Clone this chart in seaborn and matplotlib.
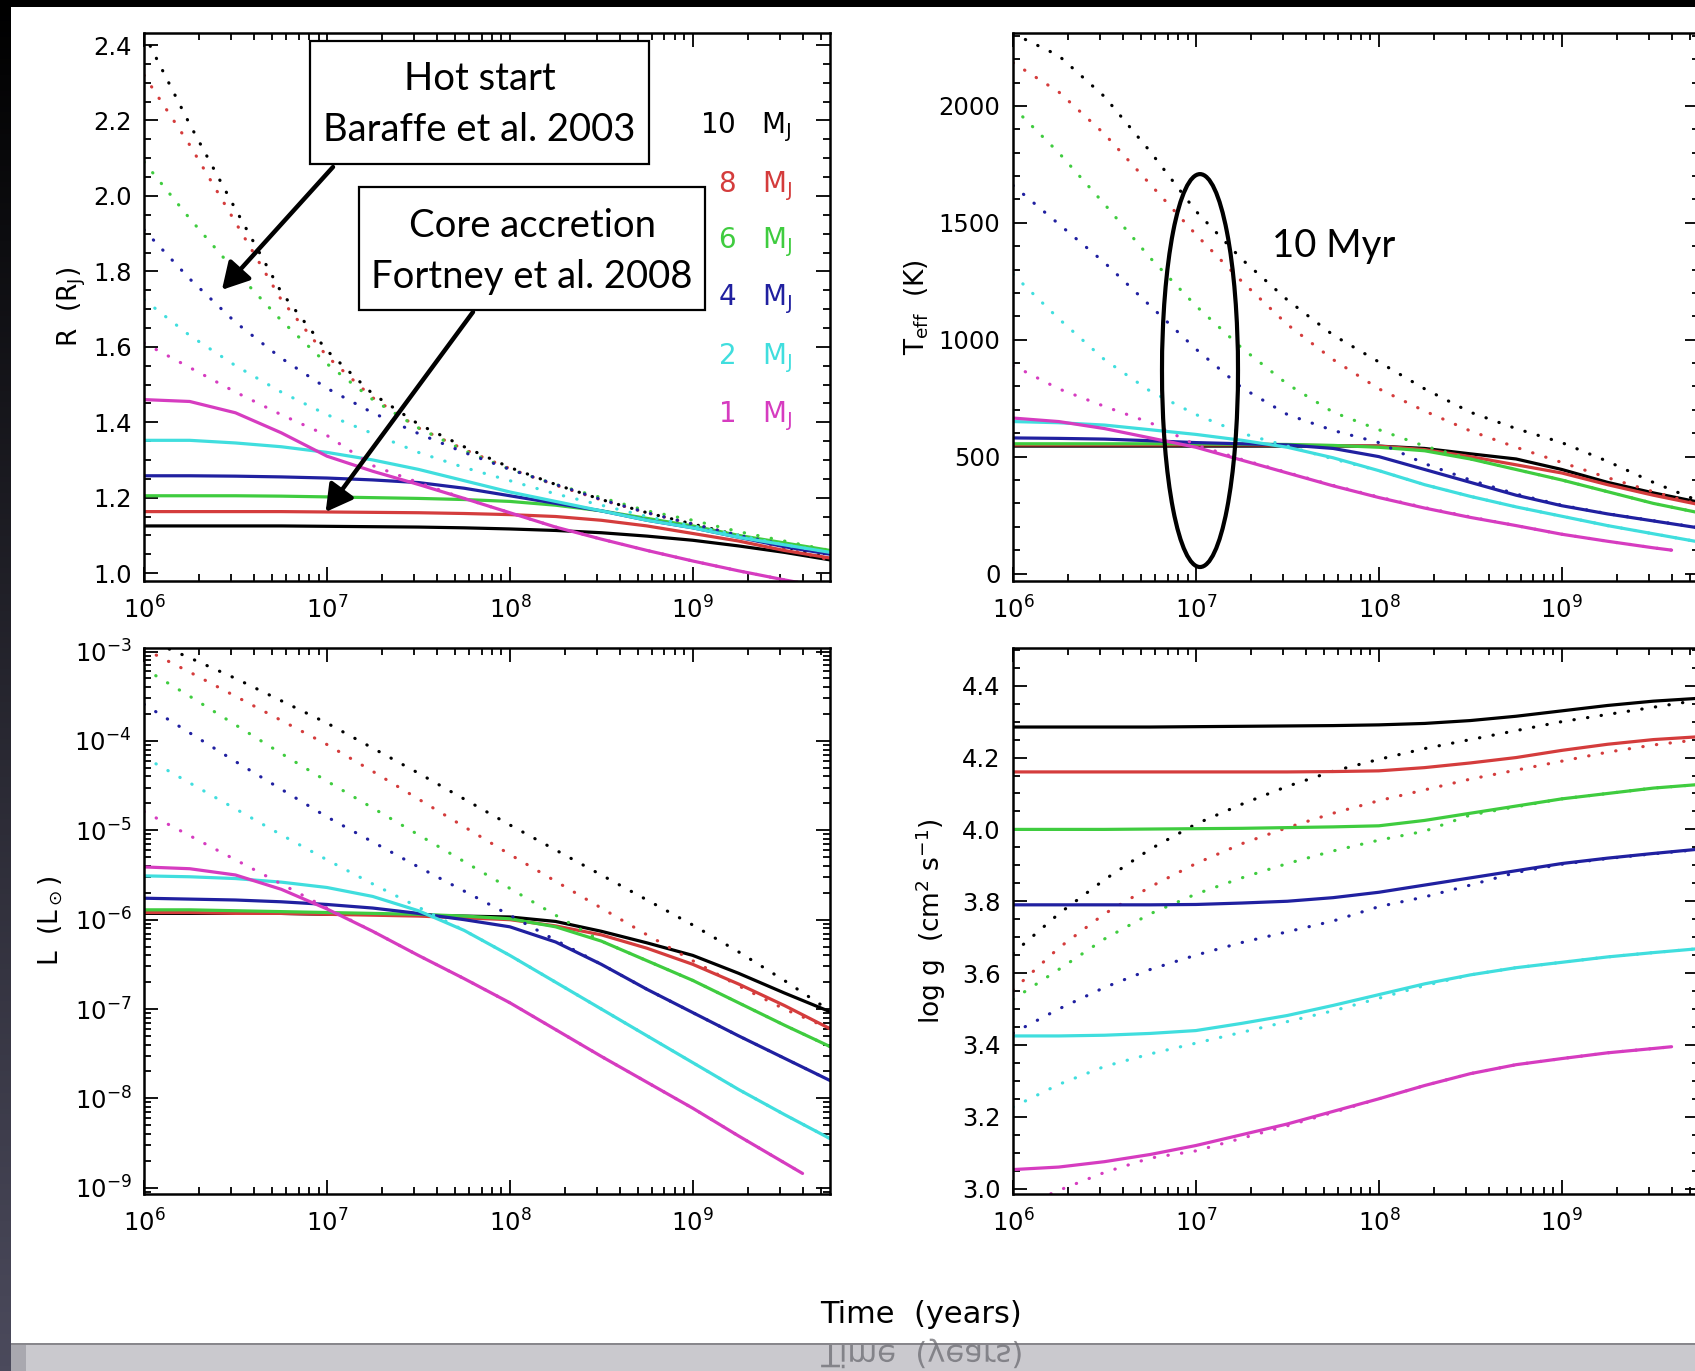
#!/usr/bin/env python3
"""Evolution tracks of giant planets: hot start (dotted) vs core accretion (solid)."""

import numpy as np
import pandas as pd
import seaborn as sns
import matplotlib
matplotlib.use("Agg")
import matplotlib.pyplot as plt
from matplotlib.patches import Rectangle, Ellipse, PathPatch
from matplotlib.ticker import (MultipleLocator, FormatStrFormatter, LogLocator,
                               LogFormatterMathtext, NullFormatter)
from matplotlib.textpath import TextPath
from matplotlib.font_manager import FontProperties
from matplotlib.transforms import Affine2D

# --- Data: log10(age / yr) and one row per mass (10, 8, 6, 4, 2, 1 M_J) ---
LOG_AGE = [6.0, 6.25, 6.5, 6.75, 7.0, 7.25, 7.5, 7.75, 8.0, 8.25, 8.5, 8.75, 9.0, 9.25, 9.5, 9.75]
LOG_AGE_1MJ = [6.0, 6.25, 6.5, 6.75, 7.0, 7.25, 7.5, 7.75, 8.0, 8.25, 8.5, 8.75, 9.0, 9.25, 9.5, 9.6]
MASSES = [10, 8, 6, 4, 2, 1]

# radius (R_J)
R_HOT = [
    [2.43, 2.19, 1.965, 1.745, 1.59, 1.475, 1.395, 1.335, 1.28, 1.235, 1.195, 1.16, 1.13, 1.10, 1.07, 1.04],
    [2.32, 2.135, 1.93, 1.725, 1.575, 1.465, 1.385, 1.328, 1.277, 1.233, 1.194, 1.16, 1.13, 1.10, 1.065, 1.035],
    [2.09, 1.94, 1.80, 1.67, 1.555, 1.46, 1.385, 1.325, 1.275, 1.235, 1.20, 1.165, 1.14, 1.11, 1.085, 1.06],
    [1.91, 1.78, 1.665, 1.57, 1.49, 1.425, 1.37, 1.32, 1.275, 1.235, 1.195, 1.16, 1.13, 1.10, 1.075, 1.05],
    [1.725, 1.63, 1.55, 1.48, 1.42, 1.37, 1.32, 1.28, 1.245, 1.21, 1.18, 1.15, 1.125, 1.10, 1.075, 1.055],
    [1.61, 1.545, 1.48, 1.42, 1.365, 1.285, 1.24, 1.198, 1.16, 1.122, 1.09, 1.06, 1.032, 1.006, 0.982, 0.973],
]
R_CORE = [
    [1.125, 1.125, 1.125, 1.125, 1.124, 1.123, 1.122, 1.12, 1.117, 1.113, 1.107, 1.098, 1.087, 1.072, 1.055, 1.035],
    [1.163, 1.163, 1.163, 1.163, 1.162, 1.161, 1.16, 1.158, 1.155, 1.15, 1.14, 1.125, 1.105, 1.085, 1.06, 1.04],
    [1.205, 1.205, 1.205, 1.204, 1.202, 1.20, 1.198, 1.195, 1.19, 1.18, 1.165, 1.145, 1.125, 1.10, 1.08, 1.06],
    [1.258, 1.258, 1.257, 1.255, 1.252, 1.247, 1.24, 1.225, 1.205, 1.185, 1.165, 1.14, 1.12, 1.095, 1.07, 1.05],
    [1.352, 1.352, 1.345, 1.335, 1.32, 1.30, 1.275, 1.245, 1.215, 1.19, 1.165, 1.14, 1.12, 1.095, 1.075, 1.055],
    [1.46, 1.455, 1.425, 1.372, 1.31, 1.27, 1.235, 1.198, 1.16, 1.122, 1.09, 1.06, 1.032, 1.006, 0.982, 0.973],
]

# effective temperature (K)
TEFF_HOT = [
    [2310, 2215, 2040, 1805, 1550, 1345, 1170, 1020, 905, 790, 690, 620, 560, 480, 390, 310],
    [2185, 2060, 1880, 1665, 1450, 1250, 1065, 915, 790, 695, 610, 540, 475, 410, 350, 295],
    [1995, 1800, 1580, 1350, 1145, 965, 810, 690, 615, 545, 490, 445, 400, 350, 300, 260],
    [1660, 1495, 1330, 1145, 960, 795, 680, 612, 560, 470, 400, 340, 292, 256, 226, 196],
    [1280, 1090, 915, 780, 680, 600, 545, 490, 440, 380, 330, 285, 245, 205, 170, 135],
    [890, 790, 715, 645, 550, 488, 432, 377, 327, 282, 242, 205, 168, 138, 110, 100],
]
TEFF_CORE = [
    [545, 545, 545, 545, 545, 545, 545, 545, 545, 535, 512, 490, 445, 390, 345, 305],
    [550, 550, 550, 550, 550, 550, 549, 547, 545, 530, 500, 465, 430, 380, 335, 295],
    [555, 555, 555, 555, 554, 553, 552, 548, 540, 525, 490, 445, 400, 350, 300, 260],
    [580, 578, 575, 568, 560, 555, 550, 535, 500, 445, 390, 335, 290, 255, 225, 195],
    [650, 645, 635, 615, 595, 570, 540, 495, 440, 380, 330, 285, 245, 205, 170, 135],
    [665, 650, 620, 580, 540, 485, 430, 375, 325, 280, 240, 205, 168, 138, 110, 100],
]

# log10 luminosity (L_sun)
LOGL_HOT = [
    [-2.85, -3.07, -3.30, -3.55, -3.80, -4.08, -4.36, -4.65, -4.94, -5.22, -5.50, -5.78, -6.06, -6.36, -6.68, -7.02],
    [-2.97, -3.23, -3.50, -3.77, -4.04, -4.34, -4.65, -4.96, -5.27, -5.57, -5.87, -6.17, -6.46, -6.74, -7.00, -7.22],
    [-3.19, -3.50, -3.82, -4.14, -4.45, -4.75, -5.05, -5.35, -5.65, -5.95, -6.24, -6.46, -6.68, -6.93, -7.18, -7.42],
    [-3.59, -3.91, -4.23, -4.54, -4.85, -5.13, -5.41, -5.68, -5.95, -6.23, -6.50, -6.78, -7.04, -7.30, -7.55, -7.80],
    [-4.18, -4.47, -4.76, -5.05, -5.33, -5.60, -5.86, -6.12, -6.40, -6.70, -7.00, -7.30, -7.60, -7.90, -8.18, -8.45],
    [-4.79, -5.06, -5.33, -5.60, -5.87, -6.13, -6.40, -6.66, -6.93, -7.23, -7.53, -7.82, -8.11, -8.42, -8.72, -8.84],
]
LOGL_CORE = [
    [-5.93, -5.93, -5.93, -5.93, -5.94, -5.94, -5.95, -5.96, -5.97, -6.02, -6.13, -6.26, -6.40, -6.60, -6.82, -7.03],
    [-5.92, -5.92, -5.93, -5.93, -5.94, -5.95, -5.96, -5.98, -6.00, -6.07, -6.17, -6.32, -6.50, -6.72, -6.96, -7.22],
    [-5.89, -5.89, -5.90, -5.91, -5.92, -5.93, -5.94, -5.96, -5.99, -6.08, -6.24, -6.46, -6.68, -6.93, -7.18, -7.42],
    [-5.76, -5.77, -5.78, -5.80, -5.83, -5.87, -5.93, -6.00, -6.08, -6.25, -6.50, -6.78, -7.04, -7.30, -7.55, -7.80],
    [-5.51, -5.52, -5.54, -5.58, -5.64, -5.74, -5.90, -6.12, -6.40, -6.70, -7.00, -7.30, -7.60, -7.90, -8.18, -8.45],
    [-5.41, -5.43, -5.50, -5.66, -5.88, -6.13, -6.40, -6.66, -6.93, -7.23, -7.53, -7.82, -8.11, -8.42, -8.72, -8.84],
]

# log g
LOGG_HOT = [
    [3.655, 3.765, 3.86, 3.945, 4.015, 4.07, 4.12, 4.162, 4.195, 4.225, 4.25, 4.275, 4.30, 4.32, 4.34, 4.36],
    [3.553, 3.67, 3.765, 3.84, 3.905, 3.96, 4.005, 4.045, 4.08, 4.11, 4.14, 4.165, 4.19, 4.215, 4.235, 4.25],
    [3.527, 3.61, 3.695, 3.765, 3.82, 3.865, 3.905, 3.94, 3.97, 3.995, 4.04, 4.063, 4.085, 4.10, 4.115, 4.125],
    [3.433, 3.50, 3.56, 3.61, 3.65, 3.685, 3.715, 3.745, 3.785, 3.812, 3.845, 3.88, 3.903, 3.919, 3.932, 3.944],
    [3.227, 3.29, 3.34, 3.375, 3.405, 3.435, 3.465, 3.495, 3.53, 3.565, 3.595, 3.615, 3.63, 3.645, 3.657, 3.668],
    [2.94, 2.995, 3.045, 3.085, 3.105, 3.14, 3.175, 3.212, 3.25, 3.287, 3.32, 3.345, 3.362, 3.378, 3.39, 3.395],
]
LOGG_CORE = [
    [4.285, 4.285, 4.285, 4.285, 4.286, 4.287, 4.288, 4.289, 4.291, 4.295, 4.303, 4.315, 4.33, 4.345, 4.357, 4.365],
    [4.16, 4.16, 4.16, 4.16, 4.16, 4.16, 4.16, 4.161, 4.163, 4.172, 4.185, 4.20, 4.22, 4.237, 4.25, 4.258],
    [4.0, 4.0, 4.0, 4.001, 4.002, 4.003, 4.005, 4.007, 4.01, 4.025, 4.045, 4.065, 4.085, 4.10, 4.115, 4.125],
    [3.79, 3.79, 3.79, 3.79, 3.791, 3.795, 3.80, 3.81, 3.825, 3.845, 3.865, 3.885, 3.905, 3.92, 3.933, 3.945],
    [3.425, 3.425, 3.427, 3.432, 3.44, 3.46, 3.482, 3.51, 3.54, 3.57, 3.595, 3.615, 3.63, 3.645, 3.657, 3.668],
    [3.053, 3.06, 3.075, 3.095, 3.12, 3.15, 3.18, 3.215, 3.25, 3.287, 3.32, 3.345, 3.362, 3.378, 3.39, 3.395],
]

# --- Styling & layout (pixels of the 1695 x 1371 slide) ---
W, H = 1695, 1371
COLORS = {10: "#000000", 8: "#d43c3c", 6: "#3fcc3f", 4: "#2020a0", 2: "#40dede", 1: "#d63cc0"}
DASHES = {"hot": (0.1, 4.2), "core": ""}
MASS_LABEL_R = [2.167, 2.011, 1.862, 1.709, 1.555, 1.401]
BOX_FONT = ["Lato", "DejaVu Sans"]


def fig_rect(left, top, width, height):
    return [left / W, 1 - (top + height) / H, width / W, height / H]


def tracks(hot, core, exponent=False):
    rows = []
    for model, table in (("hot", hot), ("core", core)):
        for mass, vals in zip(MASSES, table):
            ages = LOG_AGE_1MJ if mass == 1 else LOG_AGE
            for a, v in zip(ages, vals):
                rows.append({"age": 10 ** a, "value": 10 ** v if exponent else v,
                             "mass": mass, "model": model})
    return pd.DataFrame(rows)


def draw_panel(ax, df, ylabel, label_x):
    sns.lineplot(data=df, x="age", y="value", hue="mass", style="model",
                 hue_order=MASSES, style_order=["hot", "core"], palette=COLORS,
                 dashes=DASHES, estimator=None, errorbar=None, linewidth=2.3,
                 legend=False, ax=ax, dash_capstyle="round")
    ax.set_xscale("log")
    ax.set_xlim(1e6, 10 ** 9.75)
    ax.xaxis.set_major_locator(LogLocator(base=10, numticks=20))
    ax.xaxis.set_minor_locator(LogLocator(base=10, subs=np.arange(2, 10), numticks=20))
    ax.xaxis.set_major_formatter(LogFormatterMathtext())
    ax.xaxis.set_minor_formatter(NullFormatter())
    ax.tick_params(which="both", direction="in", top=True, right=True, bottom=True,
                   left=True, color="black", width=1.3, labelsize=17.5, labelcolor="black")
    ax.tick_params(which="major", length=10)
    ax.tick_params(which="minor", length=5)
    ax.tick_params(axis="x", pad=11)
    ax.tick_params(axis="y", pad=9)
    for s in ax.spines.values():
        s.set_linewidth(1.8)
        s.set_color("black")
    ax.set_xlabel("")
    ax.set_ylabel(ylabel, fontsize=19, color="black")
    ax.yaxis.set_label_coords(label_x, 0.5)
    ax.set_facecolor("white")


sns.set_theme(style="white")
plt.rcParams["font.family"] = ["DejaVu Sans"]
plt.rcParams["mathtext.fontset"] = "dejavusans"

fig = plt.figure(figsize=(W / 100, H / 100), dpi=100, facecolor="white")

ax_r = fig.add_axes(fig_rect(144, 33, 686, 548))
ax_t = fig.add_axes(fig_rect(1013, 33, 686, 548))
ax_l = fig.add_axes(fig_rect(144, 648, 686, 546))
ax_g = fig.add_axes(fig_rect(1013, 648, 686, 546))

# radius
draw_panel(ax_r, tracks(R_HOT, R_CORE), r"R  (R$_\mathrm{J}$)", -0.082)
ax_r.set_ylim(0.979, 2.432)
ax_r.yaxis.set_major_locator(MultipleLocator(0.2))
ax_r.yaxis.set_minor_locator(MultipleLocator(0.05))
ax_r.yaxis.set_major_formatter(FormatStrFormatter("%.1f"))

# effective temperature
draw_panel(ax_t, tracks(TEFF_HOT, TEFF_CORE), r"T$_\mathrm{eff}$  (K)", -0.119)
ax_t.set_ylim(-32, 2312)
ax_t.yaxis.set_major_locator(MultipleLocator(500))
ax_t.yaxis.set_minor_locator(MultipleLocator(100))
ax_t.yaxis.set_major_formatter(FormatStrFormatter("%d"))

# luminosity
draw_panel(ax_l, tracks(LOGL_HOT, LOGL_CORE, exponent=True), r"L  (L$_\odot$)", -0.115)
ax_l.set_yscale("log")
ax_l.set_ylim(10 ** -9.07, 10 ** -2.96)
ax_l.yaxis.set_major_locator(LogLocator(base=10, numticks=20))
ax_l.yaxis.set_minor_locator(LogLocator(base=10, subs=np.arange(2, 10), numticks=20))
ax_l.yaxis.set_major_formatter(LogFormatterMathtext())
ax_l.yaxis.set_minor_formatter(NullFormatter())

# surface gravity
draw_panel(ax_g, tracks(LOGG_HOT, LOGG_CORE), r"log g  (cm$^2$ s$^{-1}$)", -0.095)
ax_g.set_ylim(2.985, 4.505)
ax_g.yaxis.set_major_locator(MultipleLocator(0.2))
ax_g.yaxis.set_minor_locator(MultipleLocator(0.05))
ax_g.yaxis.set_major_formatter(FormatStrFormatter("%.1f"))

# mass labels (top-left panel)
for mass, yb in zip(MASSES, MASS_LABEL_R):
    ax_r.text(0.9446, yb, f"{mass}   M$_\\mathrm{{J}}$", transform=ax_r.get_yaxis_transform(),
              ha="right", va="baseline", color=COLORS[mass], fontsize=20)

# slide overlays: boxes + arrows
for (x0, y0, x1, y1), lines, ys in [
    ((0.242, 0.761, 0.736, 0.985), ("Hot start", "Baraffe et al. 2003"), (0.916, 0.823)),
    ((0.3134, 0.4945, 0.8178, 0.719), ("Core accretion", "Fortney et al. 2008"), (0.648, 0.555)),
]:
    ax_r.add_patch(Rectangle((x0, y0), x1 - x0, y1 - y0, transform=ax_r.transAxes,
                             facecolor="white", edgecolor="black", lw=1.6,
                             zorder=6, clip_on=False))
    for txt, yy in zip(lines, ys):
        ax_r.text((x0 + x1) / 2, yy, txt, transform=ax_r.transAxes, ha="center",
                  va="center", fontsize=27.5, family=BOX_FONT, color="black", zorder=7)

arrow_kw = dict(arrowstyle="-|>,head_length=0.8,head_width=0.45", lw=3.2, color="black",
                shrinkA=0, shrinkB=0, mutation_scale=20)
ax_r.annotate("", xy=(10 ** 6.426, 1.751), xycoords="data", xytext=(0.2755, 0.7555),
              textcoords="axes fraction", arrowprops=arrow_kw, zorder=8)
ax_r.annotate("", xy=(10 ** 6.993, 1.162), xycoords="data", xytext=(0.4796, 0.4909),
              textcoords="axes fraction", arrowprops=arrow_kw, zorder=8)

# 10 Myr ellipse on the temperature panel
ax_t.add_patch(Ellipse((0.2726, 0.384), 0.1108, 0.717, transform=ax_t.transAxes,
                       fill=False, edgecolor="black", lw=3, zorder=6, clip_on=False))
ax_t.text(0.3776, 0.611, "10 Myr", transform=ax_t.transAxes, ha="left", va="center",
          fontsize=27.5, family=BOX_FONT, color="black", zorder=7)

# shared x label
fig.text(921 / W, (H - 1323) / H, "Time  (years)", ha="center", va="baseline",
         fontsize=22, color="black")

# --- slide frame: black top band, dark left strip, grey reflection bar ---
fig.add_artist(Rectangle((0, 1 - 7 / H), 1, 7 / H, transform=fig.transFigure,
                         facecolor="black", edgecolor="none"))
strip = fig.add_axes([0, 0, 11 / W, 1])
top_rgb, bot_rgb = np.array([0.0, 0.0, 0.0]), np.array([0x4b, 0x4a, 0x5c]) / 255
strip.imshow(np.linspace(top_rgb, bot_rgb, 256)[:, None, :], aspect="auto")
strip.axis("off")
fig.add_artist(Rectangle((11 / W, 0), 1, 28 / H, transform=fig.transFigure,
                         facecolor="#cac9ce", edgecolor="none"))
fig.add_artist(Rectangle((11 / W, 26 / H), 1, 2 / H, transform=fig.transFigure,
                         facecolor="#88878c", edgecolor="none"))
fig.add_artist(Rectangle((11 / W, 0), 15 / W, 26 / H, transform=fig.transFigure,
                         facecolor="#a9a8af", edgecolor="none"))

# mirrored "Time (years)" on the grey bar
fp = FontProperties(family="DejaVu Sans", size=22)
tp = TextPath((0, 0), "Time  (years)", prop=fp)
width_in = tp.get_extents().width / 72
refl = PathPatch(tp, facecolor="#6c6c72", edgecolor="none", alpha=0.75)
refl.set_transform(Affine2D().scale(1 / 72, -1 / 72).translate(9.21 - width_in / 2, (H - 1345) / 100)
                   + fig.dpi_scale_trans)
fig.add_artist(refl)

fig.savefig("out.png", dpi=100, facecolor="white")
